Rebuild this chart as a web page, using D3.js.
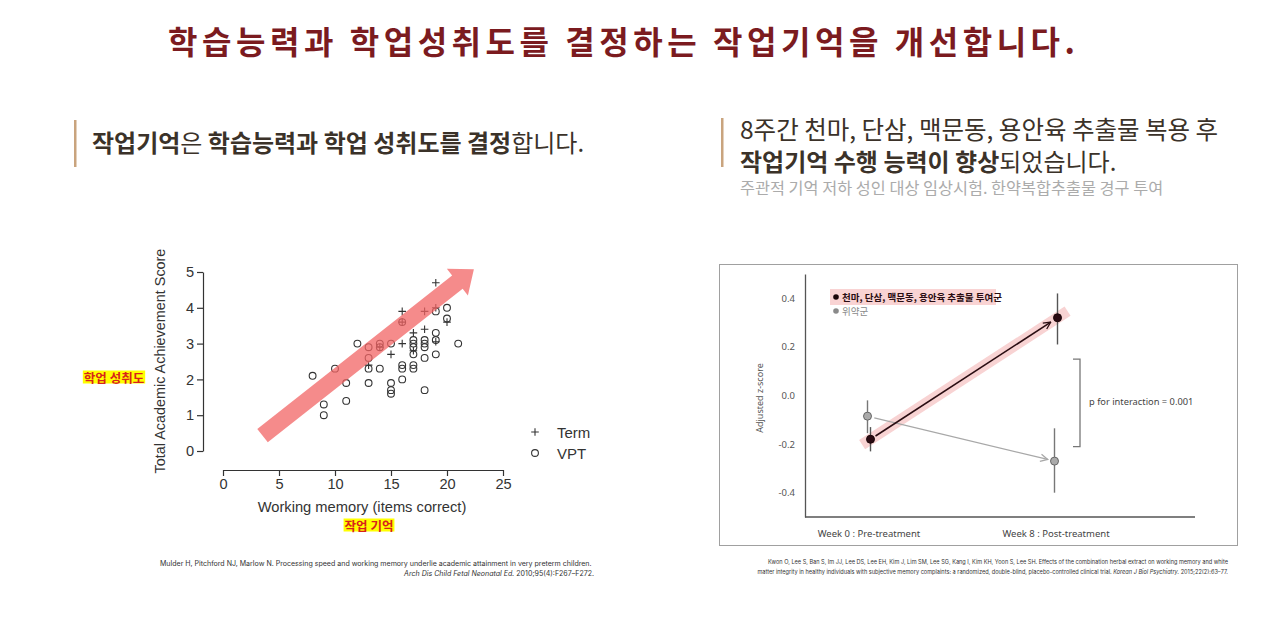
<!DOCTYPE html>
<html><head><meta charset="utf-8">
<script src="https://cdn.jsdelivr.net/npm/d3@7"></script>
<style>body{margin:0;background:#fff;}svg{display:block}</style>
</head><body>
<svg id="c" width="1280" height="622"></svg>
<script>
// ---------- DATA ----------
// Left scatter: Working memory vs Total Academic Achievement Score
const vptX = [8,9,9,10,11,11,12,13,13,13,13,14,14,14,15,15,15,15,16,16,16,16,17,17,17,17,17,17,18,18,18,18,18,19,19,19,19,20,20,21];
const vptY = [2.1,1.3,1.0,2.3,1.9,1.4,3.0,2.9,2.6,2.3,1.9,3.0,2.9,2.3,3.0,1.9,1.7,1.6,3.6,2.4,2.3,2.0,3.1,3.0,2.9,2.7,2.4,2.3,3.1,3.0,2.9,2.6,1.7,3.9,3.3,3.1,2.7,4.0,3.7,3.0];
const termX = [13,14,15,16,16,16,17,17,18,18,19,19,19,20];
const termY = [2.4,2.9,2.7,3.9,3.6,3.0,3.3,2.8,3.9,3.4,4.7,4.0,3.05,3.6];
const wmTicks = [0,5,10,15,20,25];
const scoreTicks = [0,1,2,3,4,5];
const trendArrow = [[3.53,0.43],[22.4,5.08]]; // annotation arrow (data coords)
const legendLabels = ["Term","VPT"];

// Right chart: adjusted z-score
const weeks = ["Week 0 : Pre-treatment","Week 8 : Post-treatment"];
const herbalMean = [-0.18, 0.32];
const herbalLo = [-0.23, 0.21];
const herbalHi = [-0.13, 0.42];
const placeboMean = [-0.085, -0.27];
const placeboLo = [-0.155, -0.40];
const placeboHi = [-0.02, -0.135];
const zTicks = [-0.4,-0.2,0.0,0.2,0.4];
const groupNames = ["천마, 단삼, 맥문동, 용안육 추출물 투여군","위약군"];

// ---------- DRAW ----------
const svg = d3.select("#c");
const KR = "'Noto Sans CJK KR','Noto Sans',sans-serif";

// Title
svg.append("text").attr("x",621.5).attr("y",40).attr("text-anchor","middle")
  .attr("dominant-baseline","central")
  .attr("font-family",KR).attr("font-weight",700).attr("font-size",32)
  .attr("fill","#7b1b1f").attr("textLength",907).attr("lengthAdjust","spacing")
  .text("학습능력과 학업성취도를 결정하는 작업기억을 개선합니다.");

// Header bars
svg.append("rect").attr("x",74).attr("y",120).attr("width",2.5).attr("height",47).attr("fill","#c9a47e");
svg.append("rect").attr("x",721).attr("y",118).attr("width",2.5).attr("height",49).attr("fill","#c9a47e");

function richText(x,y,parts,size,color){
  const t = svg.append("text").attr("x",x).attr("y",y).attr("dominant-baseline","central")
    .attr("font-family",KR).attr("font-size",size).attr("fill",color);
  parts.forEach(p=>t.append("tspan").attr("font-weight",p[1]?700:400).text(p[0]));
  return t;
}
richText(92,141,[["작업기억",1],["은 ",0],["학습능력과 학업 성취도를 결정",1],["합니다.",0]],24,"#3b3229");
richText(740,128,[["8주간 천마, 단삼, 맥문동, 용안육 추출물 복용 후",0]],24.5,"#3b3229");
richText(740,160,[["작업기억 수행 능력이 향상",1],["되었습니다.",0]],24,"#3b3229");
richText(740,187,[["주관적 기억 저하 성인 대상 임상시험. 한약복합추출물 경구 투여",0]],16.3,"#ababab");

// ---------- Left scatter ----------
const AR = "'Liberation Sans',Arial,sans-serif";
const x = d3.scaleLinear().domain([0,25]).range([223,503]);
const y = d3.scaleLinear().domain([0,5]).range([451,272]);

const gy = svg.append("g").attr("transform","translate(203,0)")
  .call(d3.axisLeft(y).tickValues(scoreTicks).tickSize(6).tickSizeOuter(0).tickPadding(3).tickFormat(d3.format("d")));
const gx = svg.append("g").attr("transform","translate(0,470)")
  .call(d3.axisBottom(x).tickValues(wmTicks).tickSize(6).tickSizeOuter(0).tickPadding(3).tickFormat(d3.format("d")));
[gx,gy].forEach(g=>{
  g.selectAll("text").attr("font-family",AR).attr("font-size",14.6).attr("fill","#333");
  g.selectAll("line,path").attr("stroke","#333").attr("stroke-width",1.2);
});
svg.append("text").attr("transform","translate(160,361) rotate(-90)").attr("text-anchor","middle")
  .attr("dominant-baseline","central").attr("font-family",AR).attr("font-size",14.4).attr("fill","#333")
  .text("Total Academic Achievement Score");
svg.append("text").attr("x",362).attr("y",507).attr("text-anchor","middle")
  .attr("dominant-baseline","central").attr("font-family",AR).attr("font-size",14.7).attr("fill","#333")
  .text("Working memory (items correct)");

// points
svg.append("g").selectAll("circle").data(vptX.map((d,i)=>[d,vptY[i]])).join("circle")
  .attr("cx",d=>x(d[0])).attr("cy",d=>y(d[1])).attr("r",3.4)
  .attr("fill","none").attr("stroke","#333").attr("stroke-width",1.1);
const plus = (cx,cy,s)=>`M${cx-s},${cy}H${cx+s}M${cx},${cy-s}V${cy+s}`;
svg.append("g").selectAll("path").data(termX.map((d,i)=>[d,termY[i]])).join("path")
  .attr("d",d=>plus(x(d[0]),y(d[1]),3.8)).attr("stroke","#333").attr("stroke-width",1.1);

// trend arrow (semi-transparent over points)
(function(){
  const p0=[x(trendArrow[0][0]),y(trendArrow[0][1])], p1=[x(trendArrow[1][0]),y(trendArrow[1][1])];
  const dx=p1[0]-p0[0], dy=p1[1]-p0[1], L=Math.hypot(dx,dy), ux=dx/L, uy=dy/L, nx=-uy, ny=ux;
  const sw=8.5, hw=17, hl=21;
  const b=[p1[0]-ux*hl,p1[1]-uy*hl];
  const pts=[[p0[0]+nx*sw,p0[1]+ny*sw],[b[0]+nx*sw,b[1]+ny*sw],[b[0]+nx*hw,b[1]+ny*hw],p1,
             [b[0]-nx*hw,b[1]-ny*hw],[b[0]-nx*sw,b[1]-ny*sw],[p0[0]-nx*sw,p0[1]-ny*sw]];
  svg.append("path").attr("d",d3.line()(pts)+"Z").attr("fill","#f26464").attr("opacity",0.75);
})();

// legend
const lg = svg.append("g");
legendLabels.forEach((t,i)=>{
  const ly = 432 + i*21;
  if(i===0) lg.append("path").attr("d",plus(535,ly,3.8)).attr("stroke","#333").attr("stroke-width",1.1);
  else lg.append("circle").attr("cx",535).attr("cy",ly).attr("r",3.4).attr("fill","none").attr("stroke","#333").attr("stroke-width",1.1);
  lg.append("text").attr("x",557).attr("y",ly).attr("dominant-baseline","central")
    .attr("font-family",AR).attr("font-size",15).attr("fill","#333").text(t);
});

// Korean highlighted labels
function hlLabel(cx,cy,txt){
  const g = svg.append("g");
  const r = g.append("rect").attr("fill","#ffff00");
  const t = g.append("text").attr("x",cx).attr("y",cy).attr("text-anchor","middle").attr("dominant-baseline","central")
    .attr("font-family",KR).attr("font-weight",700).attr("font-size",12.5).attr("fill","#d8231a").text(txt);
  const bb = t.node().getBBox();
  r.attr("x",bb.x-1).attr("y",cy-6.5).attr("width",bb.width+2).attr("height",13);
}
hlLabel(114,377,"학업 성취도");
hlLabel(369,525,"작업 기억");

// citation left
const CF = "Inter,'Liberation Sans',sans-serif";
svg.append("text").attr("x",160).attr("y",563).attr("font-family",CF).attr("font-size",7.05).attr("fill","#333")
  .attr("dominant-baseline","central")
  .text("Mulder H, Pitchford NJ, Marlow N. Processing speed and working memory underlie academic attainment in very preterm children.");
(function(){
  const t = svg.append("text").attr("x",594).attr("y",573).attr("text-anchor","end").attr("font-family",CF)
    .attr("font-size",7.05).attr("fill","#333").attr("dominant-baseline","central");
  t.append("tspan").attr("font-style","italic").text("Arch Dis Child Fetal Neonatal Ed.");
  t.append("tspan").text(" 2010;95(4):F267–F272.");
})();

// ---------- Right chart ----------
svg.append("rect").attr("x",719.5).attr("y",264.5).attr("width",518).attr("height",281)
  .attr("fill","none").attr("stroke","#a0a0a0").attr("stroke-width",1);
const CG = "'Noto Sans','DejaVu Sans',sans-serif";
const plotL = 805, plotR = 1195;
const xw = d3.scalePoint().domain(weeks).range([plotL+64, plotL+251]);
const yz = d3.scaleLinear().domain([-0.5,0.5]).range([517,274]);

const gz = svg.append("g").attr("transform",`translate(${plotL},0)`)
  .call(d3.axisLeft(yz).tickValues(zTicks).tickSize(0).tickPadding(10).tickFormat(d3.format(".1f")));
gz.selectAll("text").attr("font-family",CG).attr("font-size",9.5).attr("fill","#555")
  .text(d=>d3.format(".1f")(d).replace("−","-"));
gz.select("path").attr("stroke","#555").attr("stroke-width",1.3);
svg.append("line").attr("x1",plotL).attr("x2",plotR).attr("y1",yz(-0.5)).attr("y2",yz(-0.5))
  .attr("stroke","#555").attr("stroke-width",1.3);
weeks.forEach(w=>{
  svg.append("text").attr("x",xw(w)).attr("y",533).attr("text-anchor","middle").attr("dominant-baseline","central")
    .attr("font-family",CG).attr("font-size",9.5).attr("fill","#444").text(w);
});
svg.append("text").attr("transform","translate(759,398) rotate(-90)").attr("text-anchor","middle")
  .attr("dominant-baseline","central").attr("font-family",CG).attr("font-size",9).attr("fill","#555")
  .text("Adjusted z-score");

// markers
const defs = svg.append("defs");
[["ahB","#2a0d12"],["ahG","#a8a8a8"]].forEach(([id,c])=>{
  defs.append("marker").attr("id",id).attr("viewBox","0 0 10 10").attr("refX",9).attr("refY",5)
    .attr("markerWidth",9).attr("markerHeight",9).attr("markerUnits","userSpaceOnUse").attr("orient","auto")
    .append("path").attr("d","M1,1L9,5L1,9").attr("fill","none").attr("stroke",c).attr("stroke-width",1.4);
});

const offB = 1.5, offG = -1.5;
const hp = weeks.map((w,i)=>[xw(w)+offB, yz(herbalMean[i])]);
const pp = weeks.map((w,i)=>[xw(w)+offG, yz(placeboMean[i])]);
function shorten(a,b,s0,s1){
  const dx=b[0]-a[0], dy=b[1]-a[1], L=Math.hypot(dx,dy);
  return [[a[0]+dx/L*s0,a[1]+dy/L*s0],[b[0]-dx/L*s1,b[1]-dy/L*s1]];
}
// pink highlight band
const band = shorten(hp[0],hp[1],-10,-12);
svg.append("line").attr("x1",band[0][0]).attr("y1",band[0][1]).attr("x2",band[1][0]).attr("y2",band[1][1])
  .attr("stroke","#f8cfcf").attr("stroke-width",11).attr("opacity",0.9);

// error bars
weeks.forEach((w,i)=>{
  svg.append("line").attr("x1",pp[i][0]).attr("x2",pp[i][0]).attr("y1",yz(placeboLo[i])).attr("y2",yz(placeboHi[i]))
    .attr("stroke","#777").attr("stroke-width",1.4);
  svg.append("line").attr("x1",hp[i][0]).attr("x2",hp[i][0]).attr("y1",yz(herbalLo[i])).attr("y2",yz(herbalHi[i]))
    .attr("stroke","#555").attr("stroke-width",1.4);
});
// arrows
const ga = shorten(pp[0],pp[1],7,7);
svg.append("line").attr("x1",ga[0][0]).attr("y1",ga[0][1]).attr("x2",ga[1][0]).attr("y2",ga[1][1])
  .attr("stroke","#a8a8a8").attr("stroke-width",1.3).attr("marker-end","url(#ahG)");
const ba = shorten(hp[0],hp[1],6,8);
svg.append("line").attr("x1",ba[0][0]).attr("y1",ba[0][1]).attr("x2",ba[1][0]).attr("y2",ba[1][1])
  .attr("stroke","#2a0d12").attr("stroke-width",1.6).attr("marker-end","url(#ahB)");
// points
pp.forEach(p=>svg.append("circle").attr("cx",p[0]).attr("cy",p[1]).attr("r",4)
  .attr("fill","#aaaaaa").attr("stroke","#666").attr("stroke-width",1));
hp.forEach(p=>svg.append("circle").attr("cx",p[0]).attr("cy",p[1]).attr("r",4)
  .attr("fill","#2a0a12").attr("stroke","#1a0508").attr("stroke-width",1));

// bracket + p value
svg.append("path").attr("d",`M1073,${yz(0.15)}H1080V${yz(-0.21)}H1073`).attr("fill","none")
  .attr("stroke","#777").attr("stroke-width",1.3);
svg.append("text").attr("x",1089).attr("y",401).attr("dominant-baseline","central")
  .attr("font-family",CG).attr("font-size",9.3).attr("fill","#444").text("p for interaction = 0.001");

// legend
svg.append("rect").attr("x",830).attr("y",289).attr("width",166).attr("height",16).attr("fill","#f9d3d3");
svg.append("circle").attr("cx",836).attr("cy",297).attr("r",2.8).attr("fill","#1a0508");
svg.append("text").attr("x",842).attr("y",297).attr("dominant-baseline","central").attr("font-family",KR)
  .attr("font-weight",700).attr("font-size",9.5).attr("fill","#2a0d12").text(groupNames[0]);
svg.append("circle").attr("cx",836).attr("cy",311).attr("r",2.8).attr("fill","#8a8a8a");
svg.append("text").attr("x",842).attr("y",311).attr("dominant-baseline","central").attr("font-family",KR)
  .attr("font-size",9.5).attr("fill","#8a8a8a").text(groupNames[1]);

// citation right
svg.append("text").attr("x",1228).attr("y",562).attr("text-anchor","end").attr("font-family",CF)
  .attr("font-size",5.6).attr("fill","#333").attr("dominant-baseline","central")
  .text("Kwon O, Lee S, Ban S, Im JJ, Lee DS, Lee EH, Kim J, Lim SM, Lee SG, Kang I, Kim KH, Yoon S, Lee SH. Effects of the combination herbal extract on working memory and white");
(function(){
  const t = svg.append("text").attr("x",1228).attr("y",572).attr("text-anchor","end").attr("font-family",CF)
    .attr("font-size",5.6).attr("fill","#333").attr("dominant-baseline","central");
  t.append("tspan").text("matter integrity in healthy individuals with subjective memory complaints: a randomized, double-blind, placebo-controlled clinical trial. ");
  t.append("tspan").attr("font-style","italic").text("Korean J Biol Psychiatry.");
  t.append("tspan").text(" 2015;22(2):63–77.");
})();
</script>
</body></html>
